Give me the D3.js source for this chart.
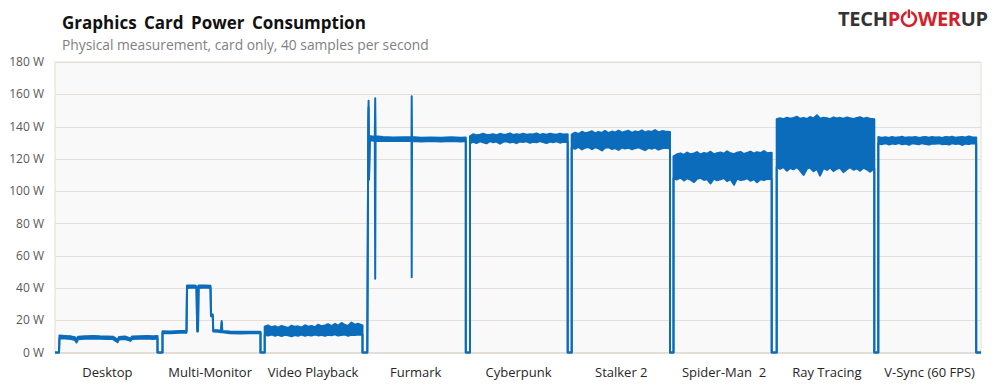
<!DOCTYPE html>
<html>
<head>
<meta charset="utf-8">
<script src="https://cdn.jsdelivr.net/npm/d3@7"></script>
<style>
  body { margin: 0; background: #fff; }
  svg text { font-family: "Open Sans", "Noto Sans", sans-serif; }
</style>
</head>
<body>
<div id="chart"></div>
<script>
// test names, in recording order
var tests = ["Desktop", "Multi-Monitor", "Video Playback", "Furmark", "Cyberpunk",
             "Stalker 2", "Spider-Man  2", "Ray Tracing", "V-Sync (60 FPS)"];
var yTicks = [0, 20, 40, 60, 80, 100, 120, 140, 160, 180];
var timeEnd = 926;

// [time, low W, high W] (low == high where the line is clean)
var desktop = [[0,0,0],[4,0,0],[4.5,8.8,10.6],[10,8.6,10.3],[16,8.4,10],[20,7.8,9.5],[21.5,6.2,8],[23,8.2,9.8],
  [30,8.5,10],[38,8.7,10.2],[45,8.5,10],[52,8.4,9.9],[58,8.3,9.8],[61,7,8.6],[62.5,6.4,8],[64,8,9.6],
  [70,8.4,9.9],[74,7.5,9],[75.5,7.2,8.6],[77,8.3,9.9],[84,8.5,10],[92,8.6,10.2],[98,8.4,10],[102.5,8.6,10.2],[102.5,0,0]];
var multiMonitor = [[107.5,0,0],[107.5,12,13.2],[115,12,13],[125,12.2,13.3],[131.5,12.3,13.4],[132,40,41.5],
  [140,40.2,41.5],[141.5,40,41],[142.2,13,14.5],[143,13,14.5],[143.6,40,41.5],[150,40.2,41.5],[155.5,40,41.3],
  [156,22.5,23.8],[157.8,22.5,23.5],[158.2,13,14],[163,12.8,13.8],[166,12.5,13.5],[166.7,18.5,19.5],
  [167.3,12.5,13.3],[175,12,13],[185,11.8,12.8],[195,11.9,12.9],[205.5,11.9,12.9],[205.5,0,0]];
var videoPlayback = [[209.7,0,0],[209.7,11,16],[213,10.5,16.8],[216.5,11.2,15.6],[220,10.4,16.3],[223,10.9,15.4],
  [226.5,10.2,16.5],[230,11,15.8],[233,10.6,15.2],[236.5,10.1,16.6],[240,10.8,15.9],[243,10.4,16.2],[246.5,11.1,15.5],
  [250,10.3,16.9],[253,10.9,16],[256.5,10.5,16.4],[260,11.2,15.7],[263,10.6,17.2],[266.5,10.9,16.3],[270,10.3,16.8],
  [273,11,17.5],[276.5,10.7,16.4],[280,11.3,17.8],[283,10.5,16.6],[286.5,10.9,18.3],[290,11.1,17],[293,10.4,16.5],
  [296.5,11,18.6],[300,10.8,17.2],[303,11.2,17.8],[307.5,11,16.8],[307.5,0,0]];
var furmark = [[312.3,0,0],[313.3,142,144],[313.6,152,156],[314,107,109],[314.8,131,134],[316,131.5,134],
  [319.8,131,133.5],[320.2,45.7,157.5],[320.6,131,134],[328,131,133.5],[338,131.2,133.2],[348,131,133.4],
  [356.5,131,133.5],[356.7,46.7,158.8],[357,131,133.5],[366,130.8,133],[376,131,133.2],[386,130.7,133],
  [396,131,133.3],[406,130.8,133],[410.8,131,133.2],[410.8,0,0]];
var cyberpunk = [[415,0,0],[415,129.5,134],[418,130.6,135.2],[421.5,129.8,134.6],[425,130.8,134.9],[428,130.2,135.6],
  [431.5,129.6,134.8],[435,131,135],[438,130.3,135.3],[441.5,130.7,134.7],[445,129.4,135.5],[448,130.5,134.9],
  [451.5,130.9,135.1],[455,130.1,135.8],[458,130.6,134.8],[461.5,129.7,135.2],[465,130.8,135],[468,130.4,135.6],
  [471.5,130.9,134.9],[475,129.9,135.3],[478,130.6,135.1],[481.5,130.2,135.7],[485,131,134.8],[488,130.4,135.4],
  [491.5,129.8,135],[495,130.7,135.6],[498,130.3,135.2],[501.5,130.9,134.9],[505,130,135.5],[508,130.6,135.1],
  [512.7,130.5,135.3],[512.7,0,0]];
var stalker2 = [[516.7,0,0],[516.7,127,135],[520,126.2,136.2],[523.5,127.4,135.4],[527,125.8,136.8],[530,126.9,135.9],
  [533.5,127.3,136.4],[537,126,137.1],[540,127.1,135.8],[543.5,126.5,136.6],[547,125.2,136.1],[550,126.8,137.3],
  [553.5,127.2,136],[557,126.1,136.9],[560,126.7,136.3],[563.5,125.5,137.5],[567,127,136.2],[570,126.4,136.8],
  [573.5,126.9,137.4],[577,125.9,136.1],[580,126.6,137],[583.5,127.1,136.5],[587,126.2,137.6],[590,125.4,136.3],
  [593.5,126.8,137.1],[597,126.3,136.7],[600,127,137.8],[603.5,125.7,136.4],[607,126.5,137.2],[610,126.9,136.9],
  [615,126.4,136.6],[615,0,0]];
var spiderMan2 = [[618.5,0,0],[618.5,108,121.5],[622,107.2,122.8],[625.5,108.4,123.4],[629,106.6,122.5],[632,107.9,123.9],
  [635.5,107.1,122.9],[639,105.6,123.3],[642,107.6,124.2],[645.5,108.2,122.7],[649,106.9,123.6],[652,107.5,123.1],
  [655.5,104.8,124.4],[659,107.8,122.8],[662,106.7,123.5],[665.5,107.3,124],[669,108.1,123.2],[672,106.2,124.7],
  [675.5,107.4,123.4],[679,103.9,122.9],[682,107.7,123.8],[685.5,106.9,124.3],[689,107.2,123],[692,108,123.7],
  [695.5,106.4,124.5],[699,107.5,123.3],[702,105.5,124.1],[705.5,107.3,123.6],[709,106.8,124.8],[712,107.6,123.5],
  [716.7,107.5,123.8],[716.7,0,0]];
var rayTracing = [[721.7,0,0],[721.7,115,144.5],[725,113.8,145.2],[728.5,114.9,144.6],[732,112.6,145.5],[735,114.3,144.9],
  [738.5,113.5,145.3],[742,114.8,146.1],[745,112.9,144.8],[748.5,110,145.4],[752,113.9,144.7],[755,114.6,145.9],
  [758.5,112.3,145.1],[762,113.8,147],[765,109.6,144.9],[768.5,114.2,145.5],[772,113.1,145.2],[775,114.7,144.6],
  [778.5,112.5,145.7],[782,113.9,145],[785,114.4,145.4],[788.5,111.8,144.8],[792,113.6,145.6],[795,114.8,145.1],
  [798.5,113.2,144.7],[802,114.1,145.3],[805,112.7,145.8],[808.5,114.5,144.9],[812,113.4,145.4],[815,112,144.8],
  [819.3,114,144.5],[819.3,0,0]];
var vSync = [[823.3,0,0],[823.3,129.5,133.5],[827,129.1,133],[830.5,129.7,133.4],[834,128.9,132.9],[837,129.5,133.6],
  [840.5,129.2,133.1],[844,129.8,133.3],[847,129,133.7],[850.5,129.4,133],[854,128.7,133.4],[857,129.6,133.2],
  [860.5,129.3,133.6],[864,129,132.9],[867,129.7,133.3],[870.5,129.2,133.5],[874,128.8,133.1],[877,129.5,133.6],
  [880.5,129.3,133.2],[884,129.7,133.4],[887,129.1,133],[890.5,129.4,133.5],[894,128.9,133.3],[897,129.6,133.7],
  [900.5,129.2,133.1],[904,129.5,133.4],[907,128.6,133.6],[910.5,129.4,133.2],[914,129.2,133.8],[917,129.6,133.4],
  [921.2,129.4,133.2],[921.2,0,0],[926,0,0]];

var series = [].concat(desktop, multiMonitor, videoPlayback, furmark, cyberpunk,
                       stalker2, spiderMan2, rayTracing, vSync);

var width = 1008, height = 387;
var blue = "#0b6cbc";

var svg = d3.select("#chart").append("svg")
  .attr("width", width).attr("height", height);

var x = d3.scaleLinear().domain([0, timeEnd]).range([55, 981]);
var y = d3.scaleLinear().domain([0, 180]).range([352.5, 62]);
var xCat = d3.scaleBand().domain(tests).range([x(1), x(timeEnd)]);

// plot background + grid
svg.append("rect")
  .attr("x", x(0)).attr("y", y(180))
  .attr("width", x(timeEnd) - x(0)).attr("height", y(0) - y(180))
  .attr("fill", "#f9f9f9").attr("stroke", "#e4ddd5");

svg.append("g").selectAll("line")
  .data(yTicks)
  .enter().append("line")
  .attr("x1", x(0)).attr("x2", x(timeEnd))
  .attr("y1", function(d) { return Math.round(y(d)) + 0.5; })
  .attr("y2", function(d) { return Math.round(y(d)) + 0.5; })
  .attr("stroke", "#e6dfd7");

svg.append("g").selectAll("text")
  .data(yTicks)
  .enter().append("text")
  .attr("x", 44).attr("y", function(d) { return y(d); })
  .attr("dy", "0.35em")
  .attr("text-anchor", "end")
  .attr("font-size", "12px").attr("fill", "#595959")
  .text(function(d) { return d + " W"; });

svg.append("g").selectAll("text")
  .data(tests)
  .enter().append("text")
  .attr("x", function(d) { return xCat(d) + xCat.bandwidth() / 2; })
  .attr("y", 377)
  .attr("text-anchor", "middle")
  .attr("font-size", "13px").attr("fill", "#262626")
  .style("white-space", "pre")
  .text(function(d) { return d; });

// power trace: noise band + its edges
var band = d3.area()
  .x(function(d) { return x(d[0]); })
  .y0(function(d) { return y(d[1]); })
  .y1(function(d) { return y(d[2]); });
var lowLine = d3.line()
  .x(function(d) { return x(d[0]); })
  .y(function(d) { return y(d[1]); });
var highLine = d3.line()
  .x(function(d) { return x(d[0]); })
  .y(function(d) { return y(d[2]); });

svg.append("path").datum(series).attr("d", band).attr("fill", blue);
[lowLine, highLine].forEach(function(l) {
  svg.append("path").datum(series)
    .attr("d", l)
    .attr("fill", "none").attr("stroke", blue)
    .attr("stroke-width", 2).attr("stroke-linejoin", "round");
});

// titles
svg.append("text")
  .attr("x", 62).attr("y", 29)
  .attr("font-size", "17px").attr("font-weight", "bold").attr("fill", "#111")
  .style("word-spacing", "3px")
  .text("Graphics Card Power Consumption");
svg.append("text")
  .attr("x", 62).attr("y", 50)
  .attr("font-size", "13.8px").attr("fill", "#7f7f7f")
  .text("Physical measurement, card only, 40 samples per second");

// logo
var red = "#d4202a";
var logo = svg.append("g").attr("font-weight", "bold").attr("font-size", "20px")
  .style("letter-spacing", "-0.3px");
var part1 = logo.append("text").attr("x", 838).attr("y", 26);
part1.append("tspan").attr("fill", "#333").text("TECH");
part1.append("tspan").attr("fill", red).text("P");
var w1 = part1.node().getComputedTextLength();
var cx = 838 + w1 + 9, cy = 19;
logo.append("circle").attr("cx", cx).attr("cy", cy).attr("r", 7)
  .attr("fill", "none").attr("stroke", red).attr("stroke-width", 2.6);
logo.append("line").attr("x1", cx).attr("x2", cx).attr("y1", cy - 10).attr("y2", cy - 1)
  .attr("stroke", "#fff").attr("stroke-width", 4.5);
logo.append("line").attr("x1", cx).attr("x2", cx).attr("y1", cy - 9.5).attr("y2", cy - 1)
  .attr("stroke", red).attr("stroke-width", 2.4);
var part2 = logo.append("text").attr("x", cx + 9).attr("y", 26);
part2.append("tspan").attr("fill", red).text("WER");
part2.append("tspan").attr("fill", "#333").text("UP");
</script>
</body>
</html>
